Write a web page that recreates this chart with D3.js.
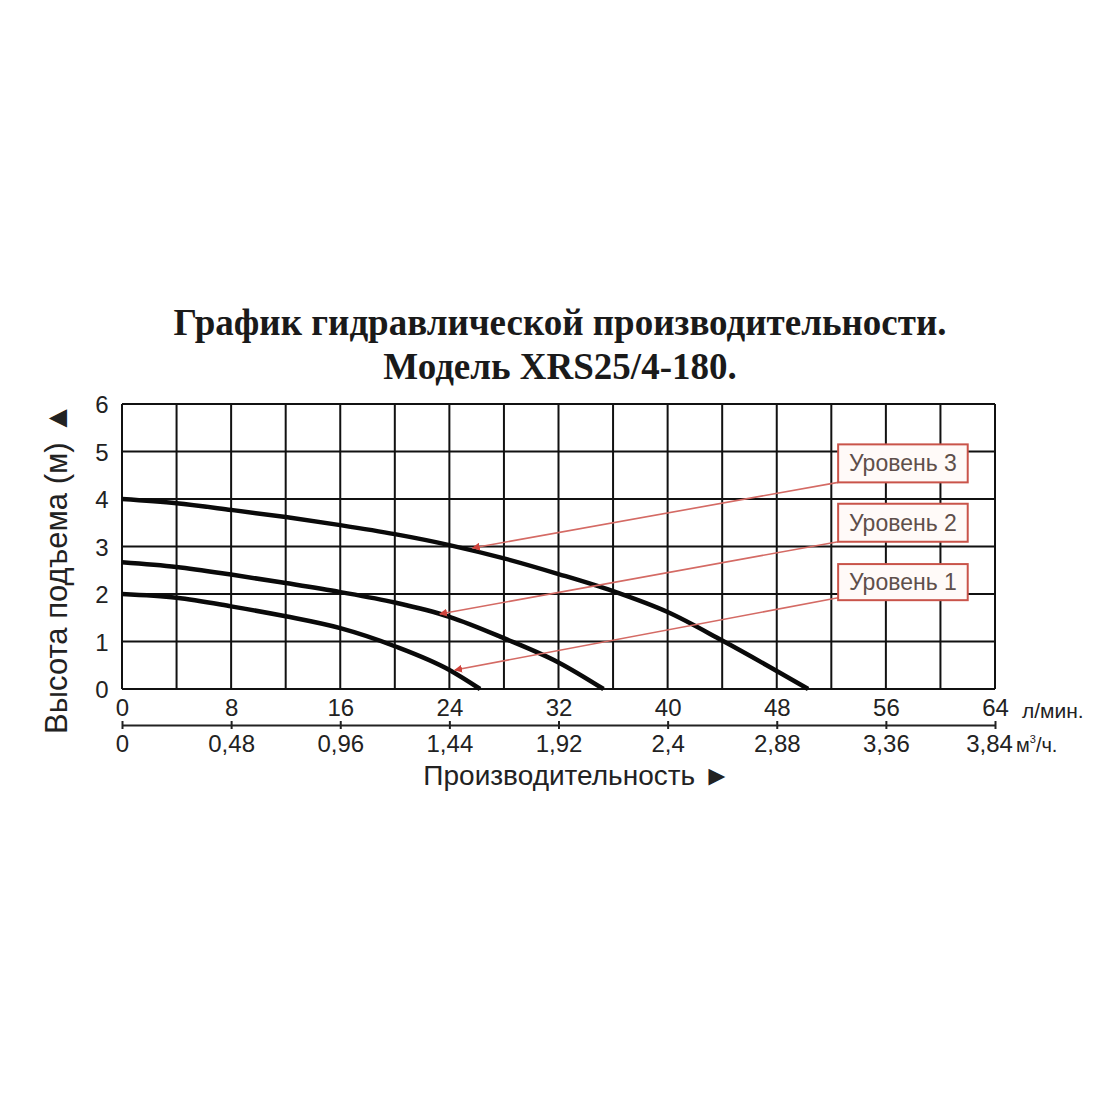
<!DOCTYPE html>
<html>
<head>
<meta charset="utf-8">
<script src="https://cdn.jsdelivr.net/npm/d3@7"></script>
<style>
  body { margin: 0; background: #fff; }
  svg { display: block; }
</style>
</head>
<body>
<div id="chart"></div>
<script>
// hydraulic performance curves of the pump, three speed levels
// x = flow (l/min), y = head (m)

const titleLines = ["График гидравлической производительности.", "Модель XRS25/4-180."]

const flowTicks = [0, 8, 16, 24, 32, 40, 48, 56, 64]            // л/мин.
const cubicTicks = [0, 0.48, 0.96, 1.44, 1.92, 2.4, 2.88, 3.36, 3.84] // м³/ч.
const headTicks = [0, 1, 2, 3, 4, 5, 6]

// curve points: [flow, head]
const level3 = [[0,4.0],[4,3.91],[8,3.77],[12,3.62],[16,3.45],[20,3.26],[24,3.03],[28,2.75],[32,2.42],[36,2.06],[40,1.62],[44,1.02],[48,0.38],[50.3,0]]
const level2 = [[0,2.67],[4,2.57],[8,2.41],[12,2.23],[16,2.04],[20,1.82],[24,1.52],[28,1.07],[32,0.56],[35.3,0]]
const level1 = [[0,2.0],[4,1.92],[8,1.74],[12,1.53],[16,1.28],[20,0.9],[24,0.4],[26.25,0]]

// callout labels and where their arrows point (data units)
const levelNames = ["Уровень 3", "Уровень 2", "Уровень 1"]
const labelLeft = [52.5, 52.5, 52.5]
const labelRight = [62, 62, 62]
const labelTop = [5.15, 3.9, 2.63]
const labelBottom = [4.35, 3.1, 1.87]
const arrowFromY = [4.35, 3.1, 1.92]
const arrowToX = [25.7, 23.3, 24.4]
const arrowToY = [2.97, 1.58, 0.4]

const W = 1100, H = 1100
const plot = { left: 122, right: 995, top: 404, bottom: 689 }

const svg = d3.select("#chart").append("svg")
  .attr("width", W).attr("height", H)

svg.append("rect").attr("width", W).attr("height", H).attr("fill", "#fff")

const x = d3.scaleLinear().domain([0, 64]).range([plot.left, plot.right])
const xM3 = d3.scaleLinear().domain([0, 3.84]).range([plot.left, plot.right])
const y = d3.scaleLinear().domain([0, 6]).range([plot.bottom, plot.top])

// title
svg.selectAll("text.title")
  .data(titleLines)
  .join("text")
  .attr("class", "title")
  .attr("x", 560).attr("y", (d, i) => 335 + i * 44)
  .attr("text-anchor", "middle")
  .style("font-family", "'Liberation Serif', 'Times New Roman', serif")
  .style("font-weight", "bold")
  .style("font-size", "37px")
  .style("fill", "#1a1a1a")
  .text(d => d)

// grid: every 4 l/min and every 1 m
const grid = svg.append("g")
grid.selectAll("line.v")
  .data(d3.range(0, 65, 4))
  .join("line")
  .attr("x1", d => x(d)).attr("x2", d => x(d))
  .attr("y1", plot.top).attr("y2", plot.bottom)
  .attr("stroke", "#111").attr("stroke-width", 2)
grid.selectAll("line.h")
  .data(headTicks)
  .join("line")
  .attr("x1", plot.left).attr("x2", plot.right)
  .attr("y1", d => y(d)).attr("y2", d => y(d))
  .attr("stroke", "#111").attr("stroke-width", 2)

// curves
const line = d3.line()
  .x(d => x(d[0])).y(d => y(d[1]))
  .curve(d3.curveMonotoneX)

svg.append("g").selectAll("path")
  .data([level3, level2, level1])
  .join("path")
  .attr("d", line)
  .attr("fill", "none")
  .attr("stroke", "#0a0a0a")
  .attr("stroke-width", 4.5)
  .attr("stroke-linecap", "butt")

// callouts with arrows
const red = "#c9544a"
svg.append("defs").append("marker")
  .attr("id", "tip")
  .attr("viewBox", "0 0 10 10")
  .attr("refX", 9).attr("refY", 5)
  .attr("markerWidth", 8).attr("markerHeight", 8)
  .attr("markerUnits", "userSpaceOnUse")
  .attr("orient", "auto")
  .append("path").attr("d", "M0,0 L10,5 L0,10 z").attr("fill", "#d0433c")

const callouts = svg.append("g")
levelNames.forEach((name, i) => {
  callouts.append("line")
    .attr("x1", x(labelLeft[i])).attr("y1", y(arrowFromY[i]))
    .attr("x2", x(arrowToX[i])).attr("y2", y(arrowToY[i]))
    .attr("stroke", "#d46a64").attr("stroke-width", 1.6)
    .attr("marker-end", "url(#tip)")

  callouts.append("rect")
    .attr("x", x(labelLeft[i])).attr("y", y(labelTop[i]))
    .attr("width", x(labelRight[i]) - x(labelLeft[i]))
    .attr("height", y(labelBottom[i]) - y(labelTop[i]))
    .attr("fill", "#fffaf8").attr("stroke", red).attr("stroke-width", 2)

  callouts.append("text")
    .attr("x", (x(labelLeft[i]) + x(labelRight[i])) / 2)
    .attr("y", (y(labelTop[i]) + y(labelBottom[i])) / 2 + 8)
    .attr("text-anchor", "middle")
    .style("font-family", "'Liberation Sans', Arial, sans-serif")
    .style("font-size", "23px").style("fill", "#5e4f4b")
    .text(name)
})

const sans = "'Liberation Sans', Arial, sans-serif"

// y tick labels
svg.append("g").selectAll("text")
  .data(headTicks)
  .join("text")
  .attr("x", 102).attr("y", d => y(d) + 9)
  .attr("text-anchor", "middle")
  .style("font-family", sans).style("font-size", "24px").style("fill", "#222")
  .text(d => d)

// y title
svg.append("text")
  .attr("transform", `translate(67,${(plot.top + plot.bottom) / 2 + 22}) rotate(-90)`)
  .attr("text-anchor", "middle")
  .style("font-family", sans).style("font-size", "31px").style("fill", "#222")
  .text("Высота подъема (м) ▲")

// flow axis, l/min (labels only)
const flowAxis = svg.append("g")
  .attr("transform", `translate(0,${plot.bottom})`)
  .call(d3.axisBottom(x).tickValues(flowTicks).tickSize(0).tickPadding(10))
flowAxis.select(".domain").remove()
flowAxis.selectAll("text")
  .style("font-family", sans).style("font-size", "24px").style("fill", "#222")

svg.append("text")
  .attr("x", 1022).attr("y", 718)
  .style("font-family", sans).style("font-size", "21px").style("fill", "#222")
  .text("л/мин.")

// flow axis, m3/h, with its own line and ticks
const axisY = 725
const m3Axis = svg.append("g")
  .attr("transform", `translate(0,${axisY})`)
  .call(d3.axisBottom(xM3).tickValues(cubicTicks).tickSize(4).tickSizeOuter(0).tickPadding(6)
    .tickFormat(d => String(d).replace(".", ",")))
m3Axis.select(".domain").attr("stroke", "#222").attr("stroke-width", 2)
m3Axis.selectAll(".tick line").attr("y1", -4).attr("stroke", "#222").attr("stroke-width", 2)
m3Axis.selectAll("text")
  .style("font-family", sans).style("font-size", "24px").style("fill", "#222")
// the last label sits a bit left so the unit fits after it
m3Axis.selectAll(".tick text").filter(d => d === 3.84).attr("dx", -6)

const unit = svg.append("text")
  .attr("x", 1016).attr("y", 752)
  .style("font-family", sans).style("font-size", "20px").style("fill", "#222")
unit.append("tspan").text("м")
unit.append("tspan").attr("dy", -9).style("font-size", "11px").text("3")
unit.append("tspan").attr("dy", 9).text("/ч.")

// x title
svg.append("text")
  .attr("x", 577).attr("y", 785)
  .attr("text-anchor", "middle")
  .style("font-family", sans).style("font-size", "28px").style("fill", "#222")
  .text("Производительность ►")
</script>
</body>
</html>
